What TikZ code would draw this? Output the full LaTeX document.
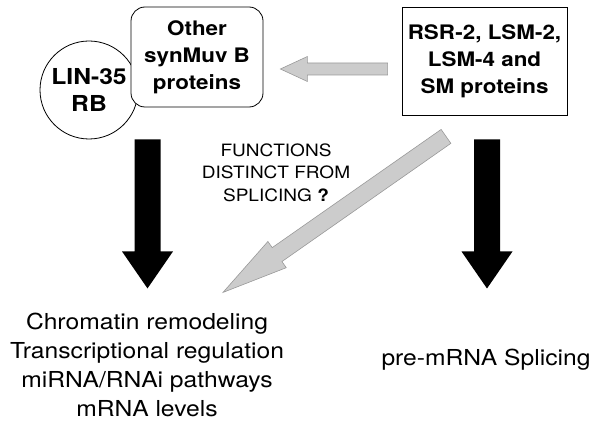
\documentclass[tikz,border=0pt]{standalone}
\usepackage{fontspec}
\setmainfont[FakeStretch=1.12]{TeX Gyre Heros}
\usetikzlibrary{calc}
\tikzset{
    protein-box/.style = {draw=black, fill=white, line width=0.8pt, align=center, inner sep=0pt, font=\fontsize{20}{27}\selectfont\bfseries},
    role-text/.style = {align=center, inner sep=0pt, font=\fontsize{22}{29}\selectfont},
    query-text/.style = {align=center, inner sep=0pt, font=\fontsize{17}{22.5}\selectfont},
    black-arrow/.style = {fill=black},
    gray-arrow/.style = {fill=gray!40, draw=gray!80, line width=0.6pt, line join=miter},
}
% block arrow from #2 to #3: half shaft #4, half head #5, head length #6
\newcommand{\blockarrow}[6][]{
    \coordinate (head-base) at ($(#3)!#6!(#2)$);
    \path[#1] ($(#2)!#4!90:(#3)$) -- ($(head-base)!#4!90:(#3)$) -- ($(head-base)!#5!90:(#3)$) -- (#3)
        -- ($(head-base)!#5!-90:(#3)$) -- ($(head-base)!#4!-90:(#3)$) -- ($(#2)!#4!-90:(#3)$) -- cycle;
}

\begin{document}
\begin{tikzpicture}[x=1pt, y=-1pt]
\useasboundingbox (0,0) rectangle (600,425);

\node[protein-box, circle, minimum size=98pt, font=\fontsize{22}{27}\selectfont\bfseries] (lin) at (89,90) {LIN-35\\RB};
\node[protein-box, rounded corners=14pt, minimum width=132pt, minimum height=100pt] (other) at (197,57) {Other\\synMuv B\\proteins};
\node[protein-box, minimum width=165pt, minimum height=108pt] (rsr) at (484.5,61) {RSR-2, LSM-2,\\LSM-4 and\\SM proteins};

\node[query-text] (query) at (276,172.5) {FUNCTIONS\\DISTINCT FROM\\SPLICING \textbf{?}};
\node[role-text] (roles) at (147,364.5) {Chromatin remodeling\\Transcriptional regulation\\miRNA/RNAi pathways\\mRNA levels};
\node[role-text] (splicing) at (486,359.3) {pre-mRNA Splicing};

% arrows
\coordinate (gray-tail) at ($(rsr.west)+(-14,8)$);
\coordinate (gray-tip) at ($(other.east)+(17,12)$);
\blockarrow[gray-arrow]{gray-tail}{gray-tip}{6pt}{12.5pt}{27pt}

\coordinate (left-tail) at ($(other.south)+(-49.5,32)$);
\coordinate (left-tip) at ($(roles.north)+(0.5,-24)$);
\blockarrow[black-arrow]{left-tail}{left-tip}{13pt}{25.5pt}{37pt}

\coordinate (right-tail) at ($(rsr.south)+(2.5,24)$);
\coordinate (right-tip) at ($(splicing.north)+(1,-60)$);
\blockarrow[black-arrow]{right-tail}{right-tip}{13pt}{25.5pt}{37pt}

\coordinate (diag-tail) at ($(rsr.south)+(-38.5,21)$);
\coordinate (diag-tip) at ($(roles.north)+(76,-20)$);
\blockarrow[gray-arrow]{diag-tail}{diag-tip}{8.5pt}{16pt}{66pt}
\end{tikzpicture}
\end{document}
